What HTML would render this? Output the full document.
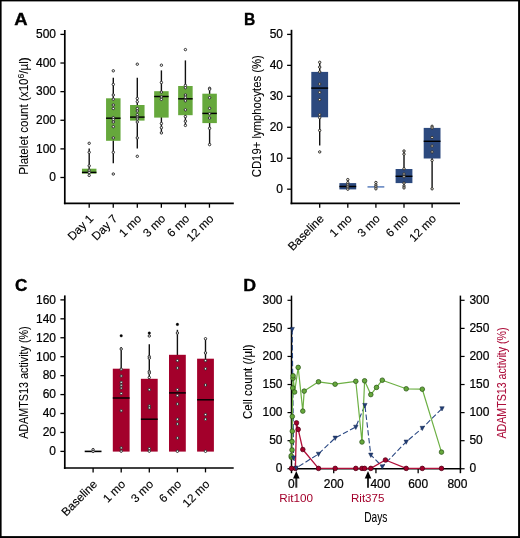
<!DOCTYPE html>
<html lang="en"><head><meta charset="utf-8"><title>Figure</title>
<style>
html,body{margin:0;padding:0;background:#fff;}
body{width:520px;height:538px;overflow:hidden;}
svg{display:block;}
text{font-family:"Liberation Sans",Arial,Helvetica,sans-serif;}
</style></head><body>
<svg width="520" height="538" viewBox="0 0 520 538" font-family="'Liberation Sans', Arial, sans-serif">
<rect x="0" y="0" width="520" height="538" fill="#fff"/>
<text transform="translate(14.30,24.90) scale(1.1,1)" font-size="16.8" text-anchor="start" fill="#000" font-weight="bold"  stroke="#000" stroke-width="0.35">A</text>
<line x1="64.80" y1="30.00" x2="64.80" y2="204.20" stroke="#000" stroke-width="1.7" />
<line x1="63.90" y1="203.30" x2="233.80" y2="203.30" stroke="#000" stroke-width="1.7" />
<line x1="60.40" y1="177.50" x2="64.80" y2="177.50" stroke="#000" stroke-width="1.3" />
<text transform="translate(56.00,181.30) scale(0.9,1)" font-size="13.3" text-anchor="end" fill="#000" font-weight="normal"  stroke="#000" stroke-width="0.25">0</text>
<line x1="60.40" y1="148.88" x2="64.80" y2="148.88" stroke="#000" stroke-width="1.3" />
<text transform="translate(56.00,152.68) scale(0.9,1)" font-size="13.3" text-anchor="end" fill="#000" font-weight="normal"  stroke="#000" stroke-width="0.25">100</text>
<line x1="60.40" y1="120.26" x2="64.80" y2="120.26" stroke="#000" stroke-width="1.3" />
<text transform="translate(56.00,124.06) scale(0.9,1)" font-size="13.3" text-anchor="end" fill="#000" font-weight="normal"  stroke="#000" stroke-width="0.25">200</text>
<line x1="60.40" y1="91.64" x2="64.80" y2="91.64" stroke="#000" stroke-width="1.3" />
<text transform="translate(56.00,95.44) scale(0.9,1)" font-size="13.3" text-anchor="end" fill="#000" font-weight="normal"  stroke="#000" stroke-width="0.25">300</text>
<line x1="60.40" y1="63.02" x2="64.80" y2="63.02" stroke="#000" stroke-width="1.3" />
<text transform="translate(56.00,66.82) scale(0.9,1)" font-size="13.3" text-anchor="end" fill="#000" font-weight="normal"  stroke="#000" stroke-width="0.25">400</text>
<line x1="60.40" y1="34.40" x2="64.80" y2="34.40" stroke="#000" stroke-width="1.3" />
<text transform="translate(56.00,38.20) scale(0.9,1)" font-size="13.3" text-anchor="end" fill="#000" font-weight="normal"  stroke="#000" stroke-width="0.25">500</text>
<line x1="89.20" y1="203.30" x2="89.20" y2="207.70" stroke="#000" stroke-width="1.3" />
<line x1="113.25" y1="203.30" x2="113.25" y2="207.70" stroke="#000" stroke-width="1.3" />
<line x1="137.30" y1="203.30" x2="137.30" y2="207.70" stroke="#000" stroke-width="1.3" />
<line x1="161.35" y1="203.30" x2="161.35" y2="207.70" stroke="#000" stroke-width="1.3" />
<line x1="185.40" y1="203.30" x2="185.40" y2="207.70" stroke="#000" stroke-width="1.3" />
<line x1="209.45" y1="203.30" x2="209.45" y2="207.70" stroke="#000" stroke-width="1.3" />
<text transform="translate(27.60,116.00) rotate(-90)" font-size="13" text-anchor="middle" fill="#000" stroke="#000" stroke-width="0.08" textLength="117.4" lengthAdjust="spacingAndGlyphs">Platelet count (x10<tspan font-size="9.5" dy="-3.7">6</tspan><tspan dy="3.7">/µl)</tspan></text>
<text transform="translate(94.00,219.30) rotate(-45)" font-size="11.7" text-anchor="end" fill="#000" stroke="#000" stroke-width="0.15">Day 1</text>
<text transform="translate(118.05,219.30) rotate(-45)" font-size="11.7" text-anchor="end" fill="#000" stroke="#000" stroke-width="0.15">Day 7</text>
<text transform="translate(142.10,219.30) rotate(-45)" font-size="11.7" text-anchor="end" fill="#000" stroke="#000" stroke-width="0.15">1 mo</text>
<text transform="translate(166.15,219.30) rotate(-45)" font-size="11.7" text-anchor="end" fill="#000" stroke="#000" stroke-width="0.15">3 mo</text>
<text transform="translate(190.20,219.30) rotate(-45)" font-size="11.7" text-anchor="end" fill="#000" stroke="#000" stroke-width="0.15">6 mo</text>
<text transform="translate(214.25,219.30) rotate(-45)" font-size="11.7" text-anchor="end" fill="#000" stroke="#000" stroke-width="0.15">12 mo</text>
<line x1="89.20" y1="148.50" x2="89.20" y2="173.00" stroke="#111" stroke-width="1.4" />
<rect x="81.95" y="168.70" width="14.50" height="4.90" fill="#66a83c"/>
<line x1="81.95" y1="172.40" x2="96.45" y2="172.40" stroke="#000" stroke-width="1.45" />
<circle cx="89.20" cy="152.30" r="1.2" fill="#fff" stroke="#2c2c2c" stroke-width="1.0"/>
<circle cx="89.20" cy="165.80" r="1.2" fill="#fff" stroke="#2c2c2c" stroke-width="1.0"/>
<circle cx="89.20" cy="170.20" r="1.2" fill="#fff" stroke="#2c2c2c" stroke-width="1.0"/>
<circle cx="89.20" cy="172.50" r="1.2" fill="#fff" stroke="#2c2c2c" stroke-width="1.0"/>
<circle cx="89.20" cy="175.40" r="1.2" fill="#fff" stroke="#2c2c2c" stroke-width="1.0"/>
<circle cx="89.20" cy="143.30" r="1.2" fill="#fff" stroke="#2c2c2c" stroke-width="1.0"/>
<line x1="113.30" y1="77.70" x2="113.30" y2="163.30" stroke="#111" stroke-width="1.4" />
<rect x="106.05" y="98.30" width="14.50" height="42.50" fill="#66a83c"/>
<line x1="106.05" y1="118.20" x2="120.55" y2="118.20" stroke="#000" stroke-width="1.45" />
<circle cx="113.30" cy="84.40" r="1.2" fill="#fff" stroke="#2c2c2c" stroke-width="1.0"/>
<circle cx="113.30" cy="95.00" r="1.2" fill="#fff" stroke="#2c2c2c" stroke-width="1.0"/>
<circle cx="113.30" cy="99.20" r="1.2" fill="#fff" stroke="#2c2c2c" stroke-width="1.0"/>
<circle cx="113.30" cy="105.00" r="1.2" fill="#fff" stroke="#2c2c2c" stroke-width="1.0"/>
<circle cx="113.30" cy="108.50" r="1.2" fill="#fff" stroke="#2c2c2c" stroke-width="1.0"/>
<circle cx="113.30" cy="117.70" r="1.2" fill="#fff" stroke="#2c2c2c" stroke-width="1.0"/>
<circle cx="113.30" cy="119.60" r="1.2" fill="#fff" stroke="#2c2c2c" stroke-width="1.0"/>
<circle cx="113.30" cy="122.00" r="1.2" fill="#fff" stroke="#2c2c2c" stroke-width="1.0"/>
<circle cx="113.30" cy="126.70" r="1.2" fill="#fff" stroke="#2c2c2c" stroke-width="1.0"/>
<circle cx="113.30" cy="137.90" r="1.2" fill="#fff" stroke="#2c2c2c" stroke-width="1.0"/>
<circle cx="113.30" cy="152.30" r="1.2" fill="#fff" stroke="#2c2c2c" stroke-width="1.0"/>
<circle cx="113.30" cy="70.80" r="1.2" fill="#fff" stroke="#2c2c2c" stroke-width="1.0"/>
<circle cx="113.30" cy="174.00" r="1.2" fill="#fff" stroke="#2c2c2c" stroke-width="1.0"/>
<line x1="137.30" y1="77.70" x2="137.30" y2="148.50" stroke="#111" stroke-width="1.4" />
<rect x="130.05" y="105.00" width="14.50" height="15.60" fill="#66a83c"/>
<line x1="130.05" y1="117.10" x2="144.55" y2="117.10" stroke="#000" stroke-width="1.45" />
<circle cx="137.30" cy="98.50" r="1.2" fill="#fff" stroke="#2c2c2c" stroke-width="1.0"/>
<circle cx="137.30" cy="101.70" r="1.2" fill="#fff" stroke="#2c2c2c" stroke-width="1.0"/>
<circle cx="137.30" cy="108.50" r="1.2" fill="#fff" stroke="#2c2c2c" stroke-width="1.0"/>
<circle cx="137.30" cy="111.00" r="1.2" fill="#fff" stroke="#2c2c2c" stroke-width="1.0"/>
<circle cx="137.30" cy="114.70" r="1.2" fill="#fff" stroke="#2c2c2c" stroke-width="1.0"/>
<circle cx="137.30" cy="117.10" r="1.2" fill="#fff" stroke="#2c2c2c" stroke-width="1.0"/>
<circle cx="137.30" cy="119.00" r="1.2" fill="#fff" stroke="#2c2c2c" stroke-width="1.0"/>
<circle cx="137.30" cy="122.00" r="1.2" fill="#fff" stroke="#2c2c2c" stroke-width="1.0"/>
<circle cx="137.30" cy="137.90" r="1.2" fill="#fff" stroke="#2c2c2c" stroke-width="1.0"/>
<circle cx="137.30" cy="64.20" r="1.2" fill="#fff" stroke="#2c2c2c" stroke-width="1.0"/>
<circle cx="137.30" cy="156.30" r="1.2" fill="#fff" stroke="#2c2c2c" stroke-width="1.0"/>
<line x1="161.40" y1="70.40" x2="161.40" y2="133.00" stroke="#111" stroke-width="1.4" />
<rect x="154.15" y="91.20" width="14.50" height="26.40" fill="#66a83c"/>
<line x1="154.15" y1="96.50" x2="168.65" y2="96.50" stroke="#000" stroke-width="1.45" />
<circle cx="161.40" cy="82.50" r="1.2" fill="#fff" stroke="#2c2c2c" stroke-width="1.0"/>
<circle cx="161.40" cy="92.10" r="1.2" fill="#fff" stroke="#2c2c2c" stroke-width="1.0"/>
<circle cx="161.40" cy="97.00" r="1.2" fill="#fff" stroke="#2c2c2c" stroke-width="1.0"/>
<circle cx="161.40" cy="99.40" r="1.2" fill="#fff" stroke="#2c2c2c" stroke-width="1.0"/>
<circle cx="161.40" cy="123.50" r="1.2" fill="#fff" stroke="#2c2c2c" stroke-width="1.0"/>
<circle cx="161.40" cy="127.70" r="1.2" fill="#fff" stroke="#2c2c2c" stroke-width="1.0"/>
<circle cx="161.40" cy="132.90" r="1.2" fill="#fff" stroke="#2c2c2c" stroke-width="1.0"/>
<circle cx="161.40" cy="65.20" r="1.2" fill="#fff" stroke="#2c2c2c" stroke-width="1.0"/>
<line x1="185.40" y1="60.40" x2="185.40" y2="125.40" stroke="#111" stroke-width="1.4" />
<rect x="178.15" y="86.00" width="14.50" height="29.20" fill="#66a83c"/>
<line x1="178.15" y1="98.80" x2="192.65" y2="98.80" stroke="#000" stroke-width="1.45" />
<circle cx="185.40" cy="85.40" r="1.2" fill="#fff" stroke="#2c2c2c" stroke-width="1.0"/>
<circle cx="185.40" cy="87.70" r="1.2" fill="#fff" stroke="#2c2c2c" stroke-width="1.0"/>
<circle cx="185.40" cy="95.00" r="1.2" fill="#fff" stroke="#2c2c2c" stroke-width="1.0"/>
<circle cx="185.40" cy="97.30" r="1.2" fill="#fff" stroke="#2c2c2c" stroke-width="1.0"/>
<circle cx="185.40" cy="100.80" r="1.2" fill="#fff" stroke="#2c2c2c" stroke-width="1.0"/>
<circle cx="185.40" cy="109.80" r="1.2" fill="#fff" stroke="#2c2c2c" stroke-width="1.0"/>
<circle cx="185.40" cy="116.60" r="1.2" fill="#fff" stroke="#2c2c2c" stroke-width="1.0"/>
<circle cx="185.40" cy="121.20" r="1.2" fill="#fff" stroke="#2c2c2c" stroke-width="1.0"/>
<circle cx="185.40" cy="125.40" r="1.2" fill="#fff" stroke="#2c2c2c" stroke-width="1.0"/>
<circle cx="185.40" cy="49.60" r="1.2" fill="#fff" stroke="#2c2c2c" stroke-width="1.0"/>
<line x1="209.60" y1="88.30" x2="209.60" y2="144.60" stroke="#111" stroke-width="1.4" />
<rect x="202.35" y="93.70" width="14.50" height="29.40" fill="#66a83c"/>
<line x1="202.35" y1="113.40" x2="216.85" y2="113.40" stroke="#000" stroke-width="1.45" />
<circle cx="209.60" cy="88.30" r="1.2" fill="#fff" stroke="#2c2c2c" stroke-width="1.0"/>
<circle cx="209.60" cy="89.20" r="1.2" fill="#fff" stroke="#2c2c2c" stroke-width="1.0"/>
<circle cx="209.60" cy="97.70" r="1.2" fill="#fff" stroke="#2c2c2c" stroke-width="1.0"/>
<circle cx="209.60" cy="108.30" r="1.2" fill="#fff" stroke="#2c2c2c" stroke-width="1.0"/>
<circle cx="209.60" cy="113.80" r="1.2" fill="#fff" stroke="#2c2c2c" stroke-width="1.0"/>
<circle cx="209.60" cy="118.00" r="1.2" fill="#fff" stroke="#2c2c2c" stroke-width="1.0"/>
<circle cx="209.60" cy="128.30" r="1.2" fill="#fff" stroke="#2c2c2c" stroke-width="1.0"/>
<circle cx="209.60" cy="144.60" r="1.2" fill="#fff" stroke="#2c2c2c" stroke-width="1.0"/>
<text transform="translate(244.10,25.00) scale(0.93,1)" font-size="16.8" text-anchor="start" fill="#000" font-weight="bold"  stroke="#000" stroke-width="0.35">B</text>
<line x1="291.50" y1="29.80" x2="291.50" y2="204.20" stroke="#000" stroke-width="1.7" />
<line x1="290.60" y1="203.30" x2="460.00" y2="203.30" stroke="#000" stroke-width="1.7" />
<line x1="287.10" y1="189.20" x2="291.50" y2="189.20" stroke="#000" stroke-width="1.3" />
<text transform="translate(283.00,193.00) scale(0.9,1)" font-size="13.3" text-anchor="end" fill="#000" font-weight="normal"  stroke="#000" stroke-width="0.25">0</text>
<line x1="287.10" y1="158.24" x2="291.50" y2="158.24" stroke="#000" stroke-width="1.3" />
<text transform="translate(283.00,162.04) scale(0.9,1)" font-size="13.3" text-anchor="end" fill="#000" font-weight="normal"  stroke="#000" stroke-width="0.25">10</text>
<line x1="287.10" y1="127.28" x2="291.50" y2="127.28" stroke="#000" stroke-width="1.3" />
<text transform="translate(283.00,131.08) scale(0.9,1)" font-size="13.3" text-anchor="end" fill="#000" font-weight="normal"  stroke="#000" stroke-width="0.25">20</text>
<line x1="287.10" y1="96.32" x2="291.50" y2="96.32" stroke="#000" stroke-width="1.3" />
<text transform="translate(283.00,100.12) scale(0.9,1)" font-size="13.3" text-anchor="end" fill="#000" font-weight="normal"  stroke="#000" stroke-width="0.25">30</text>
<line x1="287.10" y1="65.36" x2="291.50" y2="65.36" stroke="#000" stroke-width="1.3" />
<text transform="translate(283.00,69.16) scale(0.9,1)" font-size="13.3" text-anchor="end" fill="#000" font-weight="normal"  stroke="#000" stroke-width="0.25">40</text>
<line x1="287.10" y1="34.40" x2="291.50" y2="34.40" stroke="#000" stroke-width="1.3" />
<text transform="translate(283.00,38.20) scale(0.9,1)" font-size="13.3" text-anchor="end" fill="#000" font-weight="normal"  stroke="#000" stroke-width="0.25">50</text>
<line x1="319.70" y1="203.30" x2="319.70" y2="207.70" stroke="#000" stroke-width="1.3" />
<line x1="347.80" y1="203.30" x2="347.80" y2="207.70" stroke="#000" stroke-width="1.3" />
<line x1="375.90" y1="203.30" x2="375.90" y2="207.70" stroke="#000" stroke-width="1.3" />
<line x1="404.00" y1="203.30" x2="404.00" y2="207.70" stroke="#000" stroke-width="1.3" />
<line x1="432.10" y1="203.30" x2="432.10" y2="207.70" stroke="#000" stroke-width="1.3" />
<text transform="translate(261.00,116.20) rotate(-90)" font-size="13" text-anchor="middle" fill="#000" stroke="#000" stroke-width="0.08" textLength="122" lengthAdjust="spacingAndGlyphs">CD19+ lymphocytes (%)</text>
<text transform="translate(324.50,219.50) rotate(-45)" font-size="11.7" text-anchor="end" fill="#000" stroke="#000" stroke-width="0.15">Baseline</text>
<text transform="translate(352.60,219.50) rotate(-45)" font-size="11.7" text-anchor="end" fill="#000" stroke="#000" stroke-width="0.15">1 mo</text>
<text transform="translate(380.70,219.50) rotate(-45)" font-size="11.7" text-anchor="end" fill="#000" stroke="#000" stroke-width="0.15">3 mo</text>
<text transform="translate(408.80,219.50) rotate(-45)" font-size="11.7" text-anchor="end" fill="#000" stroke="#000" stroke-width="0.15">6 mo</text>
<text transform="translate(436.90,219.50) rotate(-45)" font-size="11.7" text-anchor="end" fill="#000" stroke="#000" stroke-width="0.15">12 mo</text>
<line x1="319.70" y1="62.00" x2="319.70" y2="145.60" stroke="#111" stroke-width="1.4" />
<rect x="311.30" y="71.90" width="16.80" height="45.40" fill="#2c497e"/>
<line x1="311.30" y1="88.10" x2="328.10" y2="88.10" stroke="#000" stroke-width="1.45" />
<circle cx="319.70" cy="62.30" r="1.2" fill="#fdf6e3" stroke="#2c2c2c" stroke-width="1.0"/>
<circle cx="319.70" cy="67.10" r="1.2" fill="#fdf6e3" stroke="#2c2c2c" stroke-width="1.0"/>
<circle cx="319.70" cy="71.90" r="1.2" fill="#fdf6e3" stroke="#2c2c2c" stroke-width="1.0"/>
<circle cx="319.70" cy="84.00" r="1.2" fill="#fdf6e3" stroke="#2c2c2c" stroke-width="1.0"/>
<circle cx="319.70" cy="92.30" r="1.2" fill="#fdf6e3" stroke="#2c2c2c" stroke-width="1.0"/>
<circle cx="319.70" cy="99.60" r="1.2" fill="#fdf6e3" stroke="#2c2c2c" stroke-width="1.0"/>
<circle cx="319.70" cy="114.80" r="1.2" fill="#fdf6e3" stroke="#2c2c2c" stroke-width="1.0"/>
<circle cx="319.70" cy="117.70" r="1.2" fill="#fdf6e3" stroke="#2c2c2c" stroke-width="1.0"/>
<circle cx="319.70" cy="130.40" r="1.2" fill="#fdf6e3" stroke="#2c2c2c" stroke-width="1.0"/>
<circle cx="319.70" cy="151.90" r="1.2" fill="#fdf6e3" stroke="#2c2c2c" stroke-width="1.0"/>
<line x1="347.80" y1="179.60" x2="347.80" y2="189.20" stroke="#111" stroke-width="1.4" />
<rect x="339.40" y="183.10" width="16.80" height="6.30" fill="#2c497e"/>
<line x1="339.40" y1="186.50" x2="356.20" y2="186.50" stroke="#000" stroke-width="1.45" />
<circle cx="347.80" cy="179.60" r="1.2" fill="#fdf6e3" stroke="#2c2c2c" stroke-width="1.0"/>
<circle cx="347.80" cy="182.70" r="1.2" fill="#fdf6e3" stroke="#2c2c2c" stroke-width="1.0"/>
<circle cx="347.80" cy="185.00" r="1.2" fill="#fdf6e3" stroke="#2c2c2c" stroke-width="1.0"/>
<circle cx="347.80" cy="187.00" r="1.2" fill="#fdf6e3" stroke="#2c2c2c" stroke-width="1.0"/>
<circle cx="347.80" cy="189.20" r="1.2" fill="#fdf6e3" stroke="#2c2c2c" stroke-width="1.0"/>
<line x1="375.90" y1="182.50" x2="375.90" y2="188.80" stroke="#111" stroke-width="1.3" />
<line x1="367.50" y1="186.90" x2="384.30" y2="186.90" stroke="#5b7fbd" stroke-width="1.5" />
<circle cx="375.90" cy="182.50" r="1.2" fill="#fdf6e3" stroke="#2c2c2c" stroke-width="1.0"/>
<circle cx="375.90" cy="185.00" r="1.2" fill="#fdf6e3" stroke="#2c2c2c" stroke-width="1.0"/>
<circle cx="375.90" cy="186.90" r="1.2" fill="#fdf6e3" stroke="#2c2c2c" stroke-width="1.0"/>
<circle cx="375.90" cy="188.80" r="1.2" fill="#fdf6e3" stroke="#2c2c2c" stroke-width="1.0"/>
<line x1="404.00" y1="151.00" x2="404.00" y2="187.90" stroke="#111" stroke-width="1.4" />
<rect x="395.60" y="169.00" width="16.80" height="14.10" fill="#2c497e"/>
<line x1="395.60" y1="176.30" x2="412.40" y2="176.30" stroke="#000" stroke-width="1.45" />
<circle cx="404.00" cy="151.00" r="1.2" fill="#fdf6e3" stroke="#2c2c2c" stroke-width="1.0"/>
<circle cx="404.00" cy="154.20" r="1.2" fill="#fdf6e3" stroke="#2c2c2c" stroke-width="1.0"/>
<circle cx="404.00" cy="168.70" r="1.2" fill="#fdf6e3" stroke="#2c2c2c" stroke-width="1.0"/>
<circle cx="404.00" cy="174.00" r="1.2" fill="#fdf6e3" stroke="#2c2c2c" stroke-width="1.0"/>
<circle cx="404.00" cy="176.70" r="1.2" fill="#fdf6e3" stroke="#2c2c2c" stroke-width="1.0"/>
<circle cx="404.00" cy="183.10" r="1.2" fill="#fdf6e3" stroke="#2c2c2c" stroke-width="1.0"/>
<circle cx="404.00" cy="186.00" r="1.2" fill="#fdf6e3" stroke="#2c2c2c" stroke-width="1.0"/>
<circle cx="404.00" cy="187.90" r="1.2" fill="#fdf6e3" stroke="#2c2c2c" stroke-width="1.0"/>
<line x1="432.10" y1="126.50" x2="432.10" y2="188.80" stroke="#111" stroke-width="1.4" />
<rect x="423.70" y="127.90" width="16.80" height="30.60" fill="#2c497e"/>
<line x1="423.70" y1="141.30" x2="440.50" y2="141.30" stroke="#000" stroke-width="1.45" />
<circle cx="432.10" cy="126.30" r="1.2" fill="#fdf6e3" stroke="#2c2c2c" stroke-width="1.0"/>
<circle cx="432.10" cy="127.90" r="1.2" fill="#fdf6e3" stroke="#2c2c2c" stroke-width="1.0"/>
<circle cx="432.10" cy="137.50" r="1.2" fill="#fdf6e3" stroke="#2c2c2c" stroke-width="1.0"/>
<circle cx="432.10" cy="146.00" r="1.2" fill="#fdf6e3" stroke="#2c2c2c" stroke-width="1.0"/>
<circle cx="432.10" cy="151.90" r="1.2" fill="#fdf6e3" stroke="#2c2c2c" stroke-width="1.0"/>
<circle cx="432.10" cy="160.40" r="1.2" fill="#fdf6e3" stroke="#2c2c2c" stroke-width="1.0"/>
<circle cx="432.10" cy="188.80" r="1.2" fill="#fdf6e3" stroke="#2c2c2c" stroke-width="1.0"/>
<text transform="translate(15.00,290.60) scale(1.02,1)" font-size="16.8" text-anchor="start" fill="#000" font-weight="bold"  stroke="#000" stroke-width="0.35">C</text>
<line x1="64.80" y1="295.40" x2="64.80" y2="468.90" stroke="#000" stroke-width="1.7" />
<line x1="63.90" y1="468.00" x2="233.70" y2="468.00" stroke="#000" stroke-width="1.7" />
<line x1="60.40" y1="451.40" x2="64.80" y2="451.40" stroke="#000" stroke-width="1.3" />
<text transform="translate(56.00,455.20) scale(0.9,1)" font-size="13.3" text-anchor="end" fill="#000" font-weight="normal"  stroke="#000" stroke-width="0.25">0</text>
<line x1="60.40" y1="432.46" x2="64.80" y2="432.46" stroke="#000" stroke-width="1.3" />
<text transform="translate(56.00,436.26) scale(0.9,1)" font-size="13.3" text-anchor="end" fill="#000" font-weight="normal"  stroke="#000" stroke-width="0.25">20</text>
<line x1="60.40" y1="413.52" x2="64.80" y2="413.52" stroke="#000" stroke-width="1.3" />
<text transform="translate(56.00,417.32) scale(0.9,1)" font-size="13.3" text-anchor="end" fill="#000" font-weight="normal"  stroke="#000" stroke-width="0.25">40</text>
<line x1="60.40" y1="394.58" x2="64.80" y2="394.58" stroke="#000" stroke-width="1.3" />
<text transform="translate(56.00,398.38) scale(0.9,1)" font-size="13.3" text-anchor="end" fill="#000" font-weight="normal"  stroke="#000" stroke-width="0.25">60</text>
<line x1="60.40" y1="375.64" x2="64.80" y2="375.64" stroke="#000" stroke-width="1.3" />
<text transform="translate(56.00,379.44) scale(0.9,1)" font-size="13.3" text-anchor="end" fill="#000" font-weight="normal"  stroke="#000" stroke-width="0.25">80</text>
<line x1="60.40" y1="356.70" x2="64.80" y2="356.70" stroke="#000" stroke-width="1.3" />
<text transform="translate(56.00,360.50) scale(0.9,1)" font-size="13.3" text-anchor="end" fill="#000" font-weight="normal"  stroke="#000" stroke-width="0.25">100</text>
<line x1="60.40" y1="337.76" x2="64.80" y2="337.76" stroke="#000" stroke-width="1.3" />
<text transform="translate(56.00,341.56) scale(0.9,1)" font-size="13.3" text-anchor="end" fill="#000" font-weight="normal"  stroke="#000" stroke-width="0.25">120</text>
<line x1="60.40" y1="318.82" x2="64.80" y2="318.82" stroke="#000" stroke-width="1.3" />
<text transform="translate(56.00,322.62) scale(0.9,1)" font-size="13.3" text-anchor="end" fill="#000" font-weight="normal"  stroke="#000" stroke-width="0.25">140</text>
<line x1="60.40" y1="299.88" x2="64.80" y2="299.88" stroke="#000" stroke-width="1.3" />
<text transform="translate(56.00,303.68) scale(0.9,1)" font-size="13.3" text-anchor="end" fill="#000" font-weight="normal"  stroke="#000" stroke-width="0.25">160</text>
<line x1="93.10" y1="468.00" x2="93.10" y2="472.40" stroke="#000" stroke-width="1.3" />
<line x1="121.20" y1="468.00" x2="121.20" y2="472.40" stroke="#000" stroke-width="1.3" />
<line x1="149.30" y1="468.00" x2="149.30" y2="472.40" stroke="#000" stroke-width="1.3" />
<line x1="177.40" y1="468.00" x2="177.40" y2="472.40" stroke="#000" stroke-width="1.3" />
<line x1="205.50" y1="468.00" x2="205.50" y2="472.40" stroke="#000" stroke-width="1.3" />
<text transform="translate(27.70,382.60) rotate(-90)" font-size="13.3" text-anchor="middle" fill="#000" stroke="#000" stroke-width="0.08" textLength="112.5" lengthAdjust="spacingAndGlyphs">ADAMTS13 activity (%)</text>
<text transform="translate(97.90,485.00) rotate(-45)" font-size="11.7" text-anchor="end" fill="#000" stroke="#000" stroke-width="0.15">Baseline</text>
<text transform="translate(126.00,485.00) rotate(-45)" font-size="11.7" text-anchor="end" fill="#000" stroke="#000" stroke-width="0.15">1 mo</text>
<text transform="translate(154.10,485.00) rotate(-45)" font-size="11.7" text-anchor="end" fill="#000" stroke="#000" stroke-width="0.15">3 mo</text>
<text transform="translate(182.20,485.00) rotate(-45)" font-size="11.7" text-anchor="end" fill="#000" stroke="#000" stroke-width="0.15">6 mo</text>
<text transform="translate(210.30,485.00) rotate(-45)" font-size="11.7" text-anchor="end" fill="#000" stroke="#000" stroke-width="0.15">12 mo</text>
<line x1="84.70" y1="451.40" x2="101.50" y2="451.40" stroke="#000" stroke-width="1.6" />
<circle cx="93.10" cy="449.60" r="1.2" fill="#ebe8ee" stroke="#2c2c2c" stroke-width="1.0"/>
<circle cx="93.10" cy="451.40" r="1.2" fill="#ebe8ee" stroke="#2c2c2c" stroke-width="1.0"/>
<line x1="121.20" y1="347.10" x2="121.20" y2="370.00" stroke="#111" stroke-width="1.4" />
<rect x="112.80" y="368.70" width="16.80" height="82.90" fill="#a3002b"/>
<line x1="112.80" y1="398.00" x2="129.60" y2="398.00" stroke="#000" stroke-width="1.45" />
<circle cx="121.20" cy="349.00" r="1.2" fill="#fff" stroke="#2c2c2c" stroke-width="1.0"/>
<circle cx="121.20" cy="369.20" r="1.2" fill="#fff" stroke="#2c2c2c" stroke-width="1.0"/>
<circle cx="121.20" cy="376.00" r="1.2" fill="#fff" stroke="#2c2c2c" stroke-width="1.0"/>
<circle cx="121.20" cy="382.30" r="1.2" fill="#fff" stroke="#2c2c2c" stroke-width="1.0"/>
<circle cx="121.20" cy="385.20" r="1.2" fill="#fff" stroke="#2c2c2c" stroke-width="1.0"/>
<circle cx="121.20" cy="388.10" r="1.2" fill="#fff" stroke="#2c2c2c" stroke-width="1.0"/>
<circle cx="121.20" cy="393.50" r="1.2" fill="#fff" stroke="#2c2c2c" stroke-width="1.0"/>
<circle cx="121.20" cy="410.80" r="1.2" fill="#fff" stroke="#2c2c2c" stroke-width="1.0"/>
<circle cx="121.20" cy="447.90" r="1.2" fill="#fff" stroke="#2c2c2c" stroke-width="1.0"/>
<circle cx="121.20" cy="451.20" r="1.2" fill="#fff" stroke="#2c2c2c" stroke-width="1.0"/>
<circle cx="121.20" cy="335.80" r="1.3" fill="#000" stroke="#000" stroke-width="0.3"/>
<line x1="149.30" y1="344.20" x2="149.30" y2="380.00" stroke="#111" stroke-width="1.4" />
<rect x="140.90" y="378.80" width="16.80" height="72.80" fill="#a3002b"/>
<line x1="140.90" y1="419.20" x2="157.70" y2="419.20" stroke="#000" stroke-width="1.45" />
<circle cx="149.30" cy="336.00" r="1.2" fill="#fff" stroke="#2c2c2c" stroke-width="1.0"/>
<circle cx="149.30" cy="356.60" r="1.2" fill="#fff" stroke="#2c2c2c" stroke-width="1.0"/>
<circle cx="149.30" cy="358.10" r="1.2" fill="#fff" stroke="#2c2c2c" stroke-width="1.0"/>
<circle cx="149.30" cy="371.50" r="1.2" fill="#fff" stroke="#2c2c2c" stroke-width="1.0"/>
<circle cx="149.30" cy="373.00" r="1.2" fill="#fff" stroke="#2c2c2c" stroke-width="1.0"/>
<circle cx="149.30" cy="377.50" r="1.2" fill="#fff" stroke="#2c2c2c" stroke-width="1.0"/>
<circle cx="149.30" cy="389.70" r="1.2" fill="#fff" stroke="#2c2c2c" stroke-width="1.0"/>
<circle cx="149.30" cy="406.00" r="1.2" fill="#fff" stroke="#2c2c2c" stroke-width="1.0"/>
<circle cx="149.30" cy="407.90" r="1.2" fill="#fff" stroke="#2c2c2c" stroke-width="1.0"/>
<circle cx="149.30" cy="448.70" r="1.2" fill="#fff" stroke="#2c2c2c" stroke-width="1.0"/>
<circle cx="149.30" cy="451.20" r="1.2" fill="#fff" stroke="#2c2c2c" stroke-width="1.0"/>
<circle cx="149.30" cy="333.10" r="1.3" fill="#000" stroke="#000" stroke-width="0.3"/>
<line x1="177.40" y1="329.80" x2="177.40" y2="356.00" stroke="#111" stroke-width="1.4" />
<rect x="169.00" y="354.80" width="16.80" height="96.80" fill="#a3002b"/>
<line x1="169.00" y1="392.90" x2="185.80" y2="392.90" stroke="#000" stroke-width="1.45" />
<circle cx="177.40" cy="333.00" r="1.2" fill="#fff" stroke="#2c2c2c" stroke-width="1.0"/>
<circle cx="177.40" cy="360.60" r="1.2" fill="#fff" stroke="#2c2c2c" stroke-width="1.0"/>
<circle cx="177.40" cy="368.00" r="1.2" fill="#fff" stroke="#2c2c2c" stroke-width="1.0"/>
<circle cx="177.40" cy="389.70" r="1.2" fill="#fff" stroke="#2c2c2c" stroke-width="1.0"/>
<circle cx="177.40" cy="395.50" r="1.2" fill="#fff" stroke="#2c2c2c" stroke-width="1.0"/>
<circle cx="177.40" cy="404.00" r="1.2" fill="#fff" stroke="#2c2c2c" stroke-width="1.0"/>
<circle cx="177.40" cy="419.20" r="1.2" fill="#fff" stroke="#2c2c2c" stroke-width="1.0"/>
<circle cx="177.40" cy="424.00" r="1.2" fill="#fff" stroke="#2c2c2c" stroke-width="1.0"/>
<circle cx="177.40" cy="438.00" r="1.2" fill="#fff" stroke="#2c2c2c" stroke-width="1.0"/>
<circle cx="177.40" cy="451.30" r="1.2" fill="#fff" stroke="#2c2c2c" stroke-width="1.0"/>
<circle cx="177.40" cy="324.40" r="1.3" fill="#000" stroke="#000" stroke-width="0.3"/>
<line x1="205.50" y1="338.50" x2="205.50" y2="360.00" stroke="#111" stroke-width="1.4" />
<rect x="197.10" y="358.70" width="16.80" height="92.90" fill="#a3002b"/>
<line x1="197.10" y1="399.80" x2="213.90" y2="399.80" stroke="#000" stroke-width="1.45" />
<circle cx="205.50" cy="338.70" r="1.2" fill="#fff" stroke="#2c2c2c" stroke-width="1.0"/>
<circle cx="205.50" cy="352.90" r="1.2" fill="#fff" stroke="#2c2c2c" stroke-width="1.0"/>
<circle cx="205.50" cy="360.60" r="1.2" fill="#fff" stroke="#2c2c2c" stroke-width="1.0"/>
<circle cx="205.50" cy="368.80" r="1.2" fill="#fff" stroke="#2c2c2c" stroke-width="1.0"/>
<circle cx="205.50" cy="385.00" r="1.2" fill="#fff" stroke="#2c2c2c" stroke-width="1.0"/>
<circle cx="205.50" cy="414.60" r="1.2" fill="#fff" stroke="#2c2c2c" stroke-width="1.0"/>
<circle cx="205.50" cy="419.20" r="1.2" fill="#fff" stroke="#2c2c2c" stroke-width="1.0"/>
<circle cx="205.50" cy="451.30" r="1.2" fill="#fff" stroke="#2c2c2c" stroke-width="1.0"/>
<text transform="translate(243.30,290.60) scale(1.06,1)" font-size="16.8" text-anchor="start" fill="#000" font-weight="bold"  stroke="#000" stroke-width="0.35">D</text>
<line x1="291.50" y1="295.60" x2="291.50" y2="473.20" stroke="#000" stroke-width="1.5" />
<line x1="290.75" y1="468.80" x2="461.15" y2="468.80" stroke="#000" stroke-width="1.6" />
<line x1="460.40" y1="295.60" x2="460.40" y2="473.20" stroke="#000" stroke-width="1.5" />
<line x1="287.50" y1="468.75" x2="291.50" y2="468.75" stroke="#000" stroke-width="1.2" />
<text transform="translate(282.50,472.25) scale(0.9,1)" font-size="13.3" text-anchor="end" fill="#000" font-weight="normal"  stroke="#000" stroke-width="0.25">0</text>
<line x1="460.40" y1="468.75" x2="464.60" y2="468.75" stroke="#000" stroke-width="1.2" />
<text transform="translate(469.40,472.25) scale(0.9,1)" font-size="13.3" text-anchor="start" fill="#000" font-weight="normal"  stroke="#000" stroke-width="0.25">0</text>
<line x1="287.50" y1="440.68" x2="291.50" y2="440.68" stroke="#000" stroke-width="1.2" />
<text transform="translate(282.50,444.18) scale(0.9,1)" font-size="13.3" text-anchor="end" fill="#000" font-weight="normal"  stroke="#000" stroke-width="0.25">50</text>
<line x1="460.40" y1="440.68" x2="464.60" y2="440.68" stroke="#000" stroke-width="1.2" />
<text transform="translate(469.40,444.18) scale(0.9,1)" font-size="13.3" text-anchor="start" fill="#000" font-weight="normal"  stroke="#000" stroke-width="0.25">50</text>
<line x1="287.50" y1="412.60" x2="291.50" y2="412.60" stroke="#000" stroke-width="1.2" />
<text transform="translate(282.50,416.10) scale(0.9,1)" font-size="13.3" text-anchor="end" fill="#000" font-weight="normal"  stroke="#000" stroke-width="0.25">100</text>
<line x1="460.40" y1="412.60" x2="464.60" y2="412.60" stroke="#000" stroke-width="1.2" />
<text transform="translate(469.40,416.10) scale(0.9,1)" font-size="13.3" text-anchor="start" fill="#000" font-weight="normal"  stroke="#000" stroke-width="0.25">100</text>
<line x1="287.50" y1="384.52" x2="291.50" y2="384.52" stroke="#000" stroke-width="1.2" />
<text transform="translate(282.50,388.02) scale(0.9,1)" font-size="13.3" text-anchor="end" fill="#000" font-weight="normal"  stroke="#000" stroke-width="0.25">150</text>
<line x1="460.40" y1="384.52" x2="464.60" y2="384.52" stroke="#000" stroke-width="1.2" />
<text transform="translate(469.40,388.02) scale(0.9,1)" font-size="13.3" text-anchor="start" fill="#000" font-weight="normal"  stroke="#000" stroke-width="0.25">150</text>
<line x1="287.50" y1="356.45" x2="291.50" y2="356.45" stroke="#000" stroke-width="1.2" />
<text transform="translate(282.50,359.95) scale(0.9,1)" font-size="13.3" text-anchor="end" fill="#000" font-weight="normal"  stroke="#000" stroke-width="0.25">200</text>
<line x1="460.40" y1="356.45" x2="464.60" y2="356.45" stroke="#000" stroke-width="1.2" />
<text transform="translate(469.40,359.95) scale(0.9,1)" font-size="13.3" text-anchor="start" fill="#000" font-weight="normal"  stroke="#000" stroke-width="0.25">200</text>
<line x1="287.50" y1="328.38" x2="291.50" y2="328.38" stroke="#000" stroke-width="1.2" />
<text transform="translate(282.50,331.88) scale(0.9,1)" font-size="13.3" text-anchor="end" fill="#000" font-weight="normal"  stroke="#000" stroke-width="0.25">250</text>
<line x1="460.40" y1="328.38" x2="464.60" y2="328.38" stroke="#000" stroke-width="1.2" />
<text transform="translate(469.40,331.88) scale(0.9,1)" font-size="13.3" text-anchor="start" fill="#000" font-weight="normal"  stroke="#000" stroke-width="0.25">250</text>
<line x1="287.50" y1="300.30" x2="291.50" y2="300.30" stroke="#000" stroke-width="1.2" />
<text transform="translate(282.50,303.80) scale(0.9,1)" font-size="13.3" text-anchor="end" fill="#000" font-weight="normal"  stroke="#000" stroke-width="0.25">300</text>
<line x1="460.40" y1="300.30" x2="464.60" y2="300.30" stroke="#000" stroke-width="1.2" />
<text transform="translate(469.40,303.80) scale(0.9,1)" font-size="13.3" text-anchor="start" fill="#000" font-weight="normal"  stroke="#000" stroke-width="0.25">300</text>
<line x1="333.72" y1="468.80" x2="333.72" y2="473.20" stroke="#000" stroke-width="1.3" />
<line x1="375.94" y1="468.80" x2="375.94" y2="473.20" stroke="#000" stroke-width="1.3" />
<line x1="418.16" y1="468.80" x2="418.16" y2="473.20" stroke="#000" stroke-width="1.3" />
<text transform="translate(291.40,487.60) scale(0.9,1)" font-size="13.3" text-anchor="middle" fill="#000" font-weight="normal"  stroke="#000" stroke-width="0.25">0</text>
<text transform="translate(333.80,487.60) scale(0.9,1)" font-size="13.3" text-anchor="middle" fill="#000" font-weight="normal"  stroke="#000" stroke-width="0.25">200</text>
<text transform="translate(380.40,487.60) scale(0.9,1)" font-size="13.3" text-anchor="middle" fill="#000" font-weight="normal"  stroke="#000" stroke-width="0.25">400</text>
<text transform="translate(418.20,487.60) scale(0.9,1)" font-size="13.3" text-anchor="middle" fill="#000" font-weight="normal"  stroke="#000" stroke-width="0.25">600</text>
<text transform="translate(457.40,487.60) scale(0.9,1)" font-size="13.3" text-anchor="middle" fill="#000" font-weight="normal"  stroke="#000" stroke-width="0.25">800</text>
<text transform="translate(252.30,381.70) rotate(-90)" font-size="13" text-anchor="middle" fill="#000" stroke="#000" stroke-width="0.08" textLength="74.5" lengthAdjust="spacingAndGlyphs">Cell count (/µl)</text>
<text transform="translate(505.60,383.00) rotate(-90)" font-size="13.3" text-anchor="middle" fill="#ad0f3c" stroke="#ad0f3c" stroke-width="0.08" textLength="111" lengthAdjust="spacingAndGlyphs">ADAMTS13 activity (%)</text>
<text transform="translate(279.30,501.80) scale(1,1)" font-size="11.3" text-anchor="start" fill="#a3002b" font-weight="normal" textLength="33.8" lengthAdjust="spacingAndGlyphs" stroke="#a3002b" stroke-width="0">Rit100</text>
<text transform="translate(351.00,501.80) scale(1,1)" font-size="11.3" text-anchor="start" fill="#a3002b" font-weight="normal" textLength="33.4" lengthAdjust="spacingAndGlyphs" stroke="#a3002b" stroke-width="0">Rit375</text>
<text transform="translate(364.20,522.00) scale(1,1)" font-size="14.6" text-anchor="start" fill="#000" font-weight="normal" textLength="23.2" lengthAdjust="spacingAndGlyphs" stroke="#000" stroke-width="0.05">Days</text>
<line x1="296.30" y1="487.70" x2="296.30" y2="476.50" stroke="#2e2e2e" stroke-width="2.0" />
<path d="M296.30 470.9 L299.60 478.4 L293.00 478.4 Z" fill="#000"/>
<line x1="368.00" y1="487.70" x2="368.00" y2="476.50" stroke="#2e2e2e" stroke-width="2.0" />
<path d="M368.00 470.9 L371.30 478.4 L364.70 478.4 Z" fill="#000"/>
<polyline points="292.20,329.20 293.60,457.70 296.20,468.00 318.50,454.00 335.20,437.90 355.80,427.00 364.90,405.20 370.80,454.90 382.30,466.60 406.20,441.80 422.30,428.10 442.00,408.50" fill="none" stroke="#2a4883" stroke-width="1.1" stroke-linejoin="round" stroke-dasharray="5.4 2.5"/>
<polyline points="291.30,457.20 291.20,455.80 292.00,450.00 292.00,441.50 292.30,431.20 292.30,416.50 292.80,388.00 293.10,378.20 293.10,375.80 294.60,392.00 298.20,367.40 302.80,411.10 304.20,391.10 318.50,381.80 335.10,384.20 355.80,381.30 362.00,442.00 364.60,380.80 370.80,394.60 376.50,387.40 382.30,380.20 406.20,388.80 422.30,389.20 441.50,452.10" fill="none" stroke="#6db044" stroke-width="1.2" stroke-linejoin="round" />
<polyline points="291.50,468.40 295.40,468.40 296.50,422.90 298.20,429.40 302.80,449.50 318.50,468.40 335.20,468.40 355.80,468.40 362.00,468.40 364.60,468.40 370.80,468.40 385.40,460.00 406.20,468.40 422.30,468.40 441.50,468.40" fill="none" stroke="#b0103a" stroke-width="1.3" stroke-linejoin="round" />
<circle cx="291.30" cy="457.20" r="2.3" fill="#66a83c" stroke="#2a5516" stroke-width="0.75"/>
<circle cx="291.20" cy="455.80" r="2.3" fill="#66a83c" stroke="#2a5516" stroke-width="0.75"/>
<circle cx="292.00" cy="450.00" r="2.3" fill="#66a83c" stroke="#2a5516" stroke-width="0.75"/>
<circle cx="292.00" cy="441.50" r="2.3" fill="#66a83c" stroke="#2a5516" stroke-width="0.75"/>
<circle cx="292.30" cy="431.20" r="2.3" fill="#66a83c" stroke="#2a5516" stroke-width="0.75"/>
<circle cx="292.30" cy="416.50" r="2.3" fill="#66a83c" stroke="#2a5516" stroke-width="0.75"/>
<circle cx="292.80" cy="388.00" r="2.3" fill="#66a83c" stroke="#2a5516" stroke-width="0.75"/>
<circle cx="293.10" cy="378.20" r="2.3" fill="#66a83c" stroke="#2a5516" stroke-width="0.75"/>
<circle cx="293.10" cy="375.80" r="2.3" fill="#66a83c" stroke="#2a5516" stroke-width="0.75"/>
<circle cx="294.60" cy="392.00" r="2.3" fill="#66a83c" stroke="#2a5516" stroke-width="0.75"/>
<circle cx="298.20" cy="367.40" r="2.3" fill="#66a83c" stroke="#2a5516" stroke-width="0.75"/>
<circle cx="302.80" cy="411.10" r="2.3" fill="#66a83c" stroke="#2a5516" stroke-width="0.75"/>
<circle cx="304.20" cy="391.10" r="2.3" fill="#66a83c" stroke="#2a5516" stroke-width="0.75"/>
<circle cx="318.50" cy="381.80" r="2.3" fill="#66a83c" stroke="#2a5516" stroke-width="0.75"/>
<circle cx="335.10" cy="384.20" r="2.3" fill="#66a83c" stroke="#2a5516" stroke-width="0.75"/>
<circle cx="355.80" cy="381.30" r="2.3" fill="#66a83c" stroke="#2a5516" stroke-width="0.75"/>
<circle cx="362.00" cy="442.00" r="2.3" fill="#66a83c" stroke="#2a5516" stroke-width="0.75"/>
<circle cx="364.60" cy="380.80" r="2.3" fill="#66a83c" stroke="#2a5516" stroke-width="0.75"/>
<circle cx="370.80" cy="394.60" r="2.3" fill="#66a83c" stroke="#2a5516" stroke-width="0.75"/>
<circle cx="376.50" cy="387.40" r="2.3" fill="#66a83c" stroke="#2a5516" stroke-width="0.75"/>
<circle cx="382.30" cy="380.20" r="2.3" fill="#66a83c" stroke="#2a5516" stroke-width="0.75"/>
<circle cx="406.20" cy="388.80" r="2.3" fill="#66a83c" stroke="#2a5516" stroke-width="0.75"/>
<circle cx="422.30" cy="389.20" r="2.3" fill="#66a83c" stroke="#2a5516" stroke-width="0.75"/>
<circle cx="441.50" cy="452.10" r="2.3" fill="#66a83c" stroke="#2a5516" stroke-width="0.75"/>
<circle cx="291.50" cy="468.40" r="2.3" fill="#a3002b" stroke="#4d0015" stroke-width="0.75"/>
<circle cx="295.40" cy="468.40" r="2.3" fill="#a3002b" stroke="#4d0015" stroke-width="0.75"/>
<circle cx="296.50" cy="422.90" r="2.3" fill="#a3002b" stroke="#4d0015" stroke-width="0.75"/>
<circle cx="298.20" cy="429.40" r="2.3" fill="#a3002b" stroke="#4d0015" stroke-width="0.75"/>
<circle cx="302.80" cy="449.50" r="2.3" fill="#a3002b" stroke="#4d0015" stroke-width="0.75"/>
<circle cx="318.50" cy="468.40" r="2.3" fill="#a3002b" stroke="#4d0015" stroke-width="0.75"/>
<circle cx="335.20" cy="468.40" r="2.3" fill="#a3002b" stroke="#4d0015" stroke-width="0.75"/>
<circle cx="355.80" cy="468.40" r="2.3" fill="#a3002b" stroke="#4d0015" stroke-width="0.75"/>
<circle cx="362.00" cy="468.40" r="2.3" fill="#a3002b" stroke="#4d0015" stroke-width="0.75"/>
<circle cx="364.60" cy="468.40" r="2.3" fill="#a3002b" stroke="#4d0015" stroke-width="0.75"/>
<circle cx="370.80" cy="468.40" r="2.3" fill="#a3002b" stroke="#4d0015" stroke-width="0.75"/>
<circle cx="385.40" cy="460.00" r="2.3" fill="#a3002b" stroke="#4d0015" stroke-width="0.75"/>
<circle cx="406.20" cy="468.40" r="2.3" fill="#a3002b" stroke="#4d0015" stroke-width="0.75"/>
<circle cx="422.30" cy="468.40" r="2.3" fill="#a3002b" stroke="#4d0015" stroke-width="0.75"/>
<circle cx="441.50" cy="468.40" r="2.3" fill="#a3002b" stroke="#4d0015" stroke-width="0.75"/>
<path d="M290.00 327.40 L294.40 327.40 L292.20 331.70 Z" fill="#223f78" stroke="#14264d" stroke-width="0.5"/>
<path d="M291.40 455.90 L295.80 455.90 L293.60 460.20 Z" fill="#223f78" stroke="#14264d" stroke-width="0.5"/>
<path d="M294.00 466.20 L298.40 466.20 L296.20 470.50 Z" fill="#223f78" stroke="#14264d" stroke-width="0.5"/>
<path d="M316.30 452.20 L320.70 452.20 L318.50 456.50 Z" fill="#223f78" stroke="#14264d" stroke-width="0.5"/>
<path d="M333.00 436.10 L337.40 436.10 L335.20 440.40 Z" fill="#223f78" stroke="#14264d" stroke-width="0.5"/>
<path d="M353.60 425.20 L358.00 425.20 L355.80 429.50 Z" fill="#223f78" stroke="#14264d" stroke-width="0.5"/>
<path d="M362.70 403.40 L367.10 403.40 L364.90 407.70 Z" fill="#223f78" stroke="#14264d" stroke-width="0.5"/>
<path d="M368.60 453.10 L373.00 453.10 L370.80 457.40 Z" fill="#223f78" stroke="#14264d" stroke-width="0.5"/>
<path d="M380.10 464.80 L384.50 464.80 L382.30 469.10 Z" fill="#223f78" stroke="#14264d" stroke-width="0.5"/>
<path d="M404.00 440.00 L408.40 440.00 L406.20 444.30 Z" fill="#223f78" stroke="#14264d" stroke-width="0.5"/>
<path d="M420.10 426.30 L424.50 426.30 L422.30 430.60 Z" fill="#223f78" stroke="#14264d" stroke-width="0.5"/>
<path d="M439.80 406.70 L444.20 406.70 L442.00 411.00 Z" fill="#223f78" stroke="#14264d" stroke-width="0.5"/>
<rect x="0" y="0" width="520" height="1.4" fill="#000"/>
<rect x="0" y="0" width="1.6" height="538" fill="#000"/>
<rect x="518.1" y="0" width="1.9" height="538" fill="#000"/>
<rect x="0" y="536.1" width="520" height="1.9" fill="#000"/>
</svg>
</body></html>
